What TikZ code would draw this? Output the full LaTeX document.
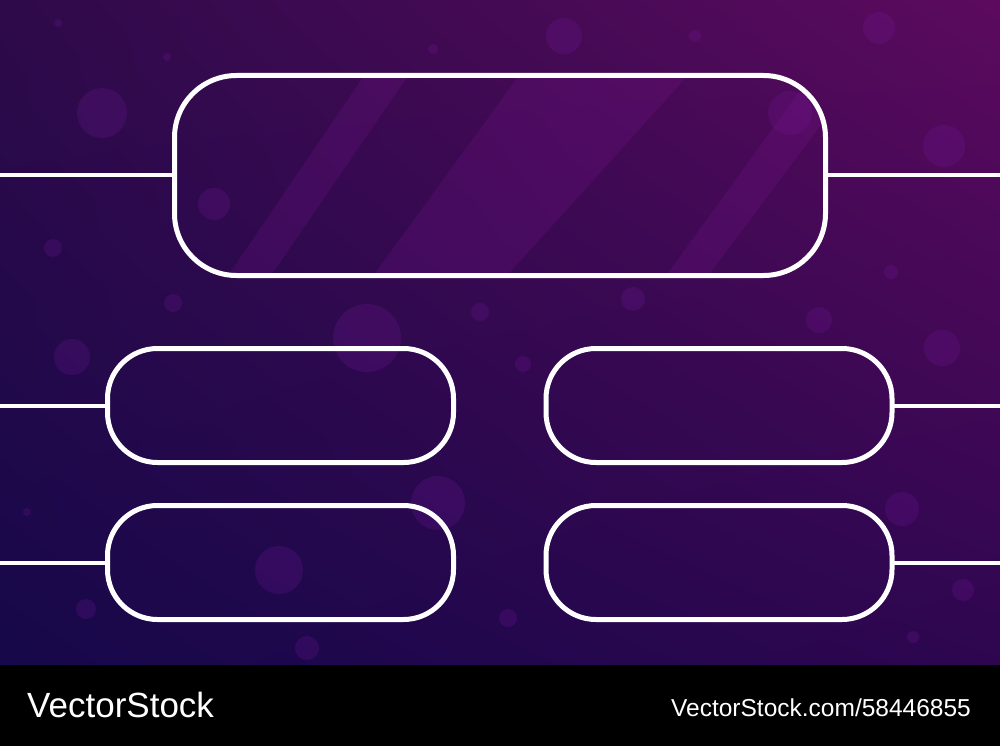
\documentclass[tikz,border=0pt]{standalone}
\usepackage{fontspec}
\setmainfont{Liberation Sans}
\usetikzlibrary{shadings}
\definecolor{bgTL}{RGB}{46,10,74}
\definecolor{bgTR}{RGB}{92,10,94}
\definecolor{bgBL}{RGB}{22,8,74}
\definecolor{bgBR}{RGB}{46,6,80}
\definecolor{bubblec}{RGB}{120,24,160}
\definecolor{bandc}{RGB}{130,20,150}
\begin{document}
\begin{tikzpicture}[x=1pt,y=-1pt,
  box/.style={draw=white, line width=5pt, rectangle, inner sep=0pt, outer sep=0pt},
  bigbox/.style={box, minimum width=651pt, minimum height=200pt, rounded corners=62pt},
  smallbox/.style={box, minimum width=346pt, minimum height=114pt, rounded corners=50pt},
  link/.style={draw=white, line width=4pt},
  bubble/.style={fill=bubblec, fill opacity=0.22},
  band/.style={fill=bandc, fill opacity=0.2},
  label/.style={text=white, inner sep=0pt}]
\useasboundingbox (0,0) rectangle (1000,746);
% background
\shade[upper left=bgTL, upper right=bgTR, lower left=bgBL, lower right=bgBR] (0,0) rectangle (1000,665);
% bubbles
\foreach \x/\y/\r in {58/23/4, 167/57/4, 102/113/25, 433/49/5, 214/204/16, 53/248/9,
  173/303/9, 367/338/34, 480/312/9, 564/36/18, 695/36/6, 879/28/16, 790/113/22,
  944/146/21, 891/272/7, 633/299/12, 819/320/13, 72/357/18, 27/512/4, 438/503/27,
  279/570/24, 86/609/10, 523/364/8, 942/348/18, 902/509/17, 963/590/11, 913/637/6,
  508/618/9, 307/648/12}
  \fill[bubble] (\x,\y) circle (\r);
% light bands inside the main box
\begin{scope}
  \clip[rounded corners=62pt] (174.5,75.5) rectangle (825.5,275.5);
  \fill[band] (225,280) -- (268,280) -- (412,70) -- (368,70) -- cycle;
  \fill[band] (370,280) -- (503,280) -- (693,70) -- (523,70) -- cycle;
  \fill[band] (663,280) -- (705,280) -- (862,70) -- (815,70) -- cycle;
\end{scope}
% boxes
\node[bigbox] (main) at (500,175.5) {};
\node[smallbox] (lt) at (280.5,405.5) {};
\node[smallbox] (lb) at (280.5,562.5) {};
\node[smallbox] (rt) at (719,405.5) {};
\node[smallbox] (rb) at (719,562.5) {};
% free ends
\coordinate (mainL) at (0,175.5);
\coordinate (mainR) at (1000,175.5);
\coordinate (ltL) at (0,405.5);
\coordinate (lbL) at (0,562.5);
\coordinate (rtR) at (1000,405.5);
\coordinate (rbR) at (1000,562.5);
\draw[link] (main.west) -- (mainL);
\draw[link] (main.east) -- (mainR);
\draw[link] (lt.west) -- (ltL);
\draw[link] (lb.west) -- (lbL);
\draw[link] (rt.east) -- (rtR);
\draw[link] (rb.east) -- (rbR);
% footer
\fill[black] (0,665) rectangle (1000,746);
\node[label, anchor=west, font=\fontsize{35}{40}\selectfont] (logo) at (27,705) {VectorStock};
\node[label, anchor=east, font=\fontsize{24.5}{28}\selectfont] (url) at (971,708) {VectorStock.com/58446855};
\end{tikzpicture}
\end{document}
